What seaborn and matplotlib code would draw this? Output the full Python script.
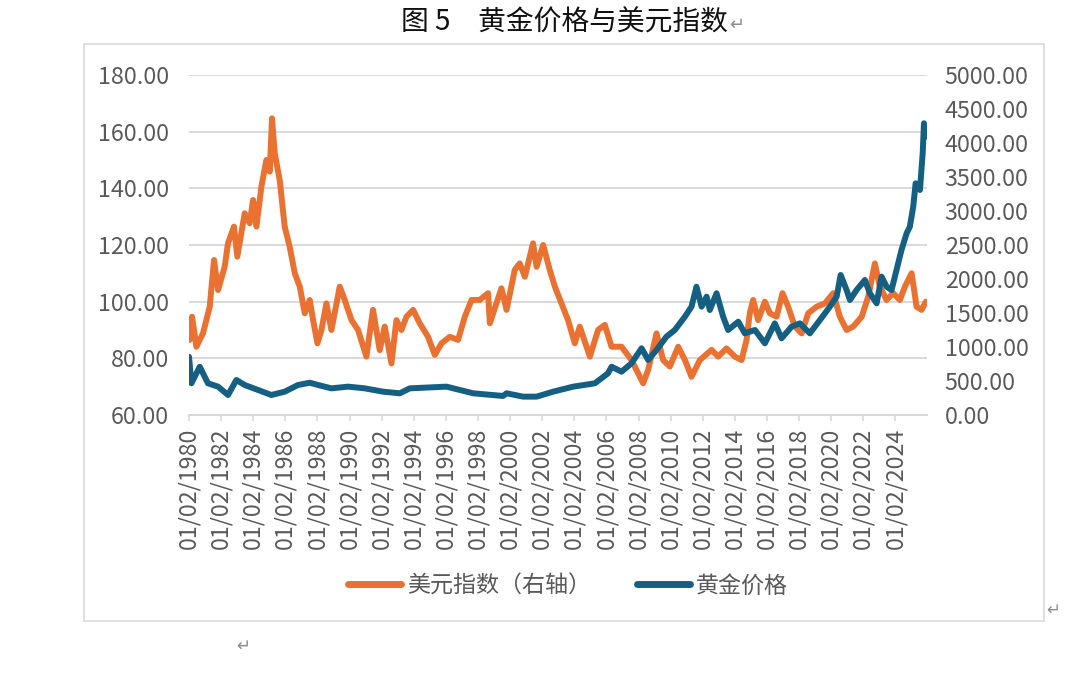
import numpy as np
import pandas as pd
import matplotlib
matplotlib.use("Agg")
import matplotlib.pyplot as plt
import seaborn as sns
from matplotlib.patches import Rectangle
from matplotlib.lines import Line2D

# ---------------- data ----------------
usd_year = [1980.04, 1980.19, 1980.46, 1980.87, 1981.29, 1981.56, 1981.81, 1982.22, 1982.43,
            1982.80, 1983.01, 1983.47, 1983.78, 1983.99, 1984.20, 1984.51, 1984.82, 1985.03,
            1985.17, 1985.34, 1985.65, 1985.96, 1986.27, 1986.59, 1986.90, 1987.21, 1987.52,
            1987.73, 1988.00, 1988.25, 1988.56, 1988.87, 1989.39, 1989.70, 1990.12, 1990.53,
            1991.05, 1991.46, 1991.88, 1992.19, 1992.61, 1992.92, 1993.23, 1993.55, 1993.96,
            1994.37, 1994.89, 1995.31, 1995.73, 1996.24, 1996.76, 1997.18, 1997.60, 1998.11,
            1998.63, 1998.74, 1999.15, 1999.46, 1999.78, 2000.29, 2000.60, 2000.92, 2001.43,
            2001.65, 2002.06, 2002.47, 2002.79, 2003.20, 2003.61, 2004.03, 2004.34, 2004.97,
            2005.48, 2005.90, 2006.32, 2006.94, 2007.56, 2008.29, 2008.60, 2009.12, 2009.53,
            2009.95, 2010.47, 2010.89, 2011.30, 2011.82, 2012.55, 2012.96, 2013.48, 2014.00,
            2014.42, 2014.73, 2014.93, 2015.14, 2015.45, 2015.87, 2016.18, 2016.60, 2016.97,
            2017.32, 2017.74, 2018.16, 2018.57, 2019.09, 2019.61, 2020.13, 2020.54, 2020.96,
            2021.37, 2021.90, 2022.31, 2022.72, 2023.03, 2023.45, 2023.86, 2024.28, 2024.59,
            2025.01, 2025.32, 2025.63, 2025.90]
usd_value = [86.5, 94.7, 84.1, 88.8, 98.2, 114.7, 104.1, 112.3, 120.6,
             126.5, 115.9, 131.2, 127.7, 135.9, 126.5, 140.6, 150.0, 145.9,
             164.7, 152.4, 142.9, 126.5, 119.4, 110.0, 105.3, 95.9, 100.6,
             93.5, 85.3, 90.0, 99.4, 90.0, 105.3, 100.6, 93.5, 90.0,
             80.6, 97.1, 82.9, 91.2, 78.2, 93.5, 90.0, 94.7, 97.1,
             92.4, 87.6, 81.2, 85.3, 87.6, 86.5, 94.7, 100.6, 100.6,
             103.0, 92.4, 99.4, 104.7, 97.1, 111.2, 113.5, 108.8, 120.6,
             112.3, 120.0, 111.2, 105.3, 99.4, 93.5, 85.3, 91.2, 80.6,
             90.0, 91.8, 84.1, 84.1, 79.4, 71.2, 75.9, 88.8, 79.4,
             77.1, 84.1, 79.4, 73.5, 79.4, 83.0, 80.6, 83.5, 80.6,
             79.4, 86.5, 95.9, 100.6, 93.5, 100.0, 95.9, 94.7, 103.0,
             98.2, 91.2, 88.8, 95.9, 98.2, 99.4, 103.0, 94.7, 90.0,
             91.2, 94.7, 101.8, 113.5, 105.3, 100.6, 103.0, 100.6, 105.3,
             110.0, 98.2, 97.1, 100.0]

gold_year = [1980.00, 1980.15, 1980.67, 1981.18, 1981.81, 1982.43, 1982.95, 1983.47, 1984.30,
             1985.13, 1985.96, 1986.79, 1987.52, 1988.04, 1988.87, 1989.91, 1990.95, 1992.09,
             1993.13, 1993.75, 1996.04, 1997.70, 1999.56, 1999.78, 2000.81, 2001.65, 2002.68,
             2003.93, 2005.28, 2006.10, 2006.32, 2006.94, 2007.56, 2008.19, 2008.60, 2009.12,
             2009.74, 2010.26, 2010.89, 2011.30, 2011.61, 2011.93, 2012.24, 2012.44, 2012.86,
             2013.27, 2013.58, 2014.21, 2014.62, 2015.25, 2015.87, 2016.49, 2016.91, 2017.53,
             2018.05, 2018.67, 2019.30, 2019.92, 2020.34, 2020.59, 2020.96, 2021.17, 2021.58,
             2022.10, 2022.41, 2022.83, 2023.14, 2023.45, 2023.76, 2024.07, 2024.38, 2024.70,
             2024.90, 2025.11, 2025.26, 2025.53, 2025.70, 2025.78, 2025.86]
gold_value = [857, 466, 710, 466, 417, 294, 515, 441, 368,
              294, 343, 441, 475, 441, 392, 417, 392, 343,
              319, 392, 417, 319, 280, 319, 270, 270, 343,
              417, 466, 613, 710, 637, 760, 981, 809, 956,
              1152, 1250, 1446, 1593, 1887, 1593, 1740, 1544, 1790,
              1446, 1250, 1372, 1201, 1250, 1054, 1348, 1127, 1299,
              1348, 1201, 1397, 1593, 1740, 2059, 1838, 1691, 1838,
              1985, 1790, 1642, 2034, 1887, 1838, 2132, 2427, 2672,
              2769, 3063, 3407, 3309, 3848, 4290, 4093]

tick_years = list(range(1980, 2025, 2))
tick_labels = [f"01/02/{y}" for y in tick_years]
left_ticks = [60, 80, 100, 120, 140, 160, 180]
right_ticks = list(range(0, 5001, 500))

title_text = "图 5　黄金价格与美元指数"
usd_label = "美元指数（右轴）"
gold_label = "黄金价格"

# ---------------- style ----------------
sns.set_style("white")
plt.rcParams["font.family"] = ["Noto Sans CJK SC", "DejaVu Sans"]

ORANGE = "#E97132"
TEAL = "#156082"
GRID = "#D9D9D9"
TXT = "#595959"

W, H = 1071, 673
fig = plt.figure(figsize=(W / 100, H / 100), dpi=100)

def fx(px):
    return px / W

def fy(py):
    return 1 - py / H

# outer chart border
fig.patches.append(Rectangle((fx(84), fy(621)), fx(1044) - fx(84), fy(44) - fy(621),
                             transform=fig.transFigure, fill=False, edgecolor=GRID, lw=1.2))

ax = fig.add_axes([fx(189), fy(415), fx(926.7) - fx(189), fy(75) - fy(415)])
ax2 = ax.twinx()

usd_df = pd.DataFrame({"year": usd_year, "value": usd_value})
gold_df = pd.DataFrame({"year": gold_year, "value": gold_value})

sns.lineplot(data=usd_df, x="year", y="value", ax=ax, color=ORANGE, lw=4.3,
             solid_joinstyle="round", solid_capstyle="round", legend=False)
sns.lineplot(data=gold_df, x="year", y="value", ax=ax2, color=TEAL, lw=4.3,
             solid_joinstyle="round", solid_capstyle="round", legend=False)

ax.set_xlim(1980.0, 2025.95)
ax.set_ylim(60, 180)
ax2.set_ylim(0, 5000)

ax.set_yticks(left_ticks)
ax.set_yticklabels([f"{v:.2f}" for v in left_ticks])
ax2.set_yticks(right_ticks)
ax2.set_yticklabels([f"{v:.2f}" for v in right_ticks])
ax.set_xticks(tick_years)
ax.set_xticklabels(tick_labels, rotation=90)

ax.grid(axis="y", color=GRID, lw=1.4)
ax.grid(axis="x", visible=False)
ax2.grid(False)
ax.set_axisbelow(True)

for a in (ax, ax2):
    a.set_xlabel("")
    a.set_ylabel("")
    for s in ("left", "right", "top", "bottom"):
        a.spines[s].set_visible(False)
ax.spines["bottom"].set_visible(True)
ax.spines["bottom"].set_color(GRID)
ax.spines["bottom"].set_linewidth(1.4)

ax.tick_params(axis="x", length=4, width=1.2, color=GRID, pad=5, labelsize=16.8, labelcolor=TXT,
               bottom=True)
ax.tick_params(axis="y", length=0, pad=14.4, labelsize=16.8, labelcolor=TXT)
ax2.tick_params(axis="y", length=0, pad=13, labelsize=16.8, labelcolor=TXT)

# title
fig.text(fx(401), fy(23), title_text, ha="left", va="center", fontsize=20, color="#111111")
fig.text(fx(729), fy(25), "↵", ha="left", va="center", fontsize=13, color="#8c8c8c",
         family=["DejaVu Sans"])

# legend
handles = [Line2D([0], [0], color=ORANGE, lw=5, solid_capstyle="round"),
           Line2D([0], [0], color=TEAL, lw=5, solid_capstyle="round")]
fig.legend(handles, [usd_label, gold_label], loc="center", ncol=2, frameon=False,
           bbox_to_anchor=(fx(568), fy(586)), fontsize=16.6, handlelength=2.3,
           handletextpad=0.25, columnspacing=2.0, labelcolor=TXT)

# paragraph marks outside the chart
fig.text(fx(1046), fy(610), "↵", ha="left", va="center", fontsize=12, color="#8c8c8c",
         family=["DejaVu Sans"])
fig.text(fx(236), fy(646), "↵", ha="left", va="center", fontsize=12, color="#8c8c8c",
         family=["DejaVu Sans"])

fig.savefig("out.png", dpi=100)
